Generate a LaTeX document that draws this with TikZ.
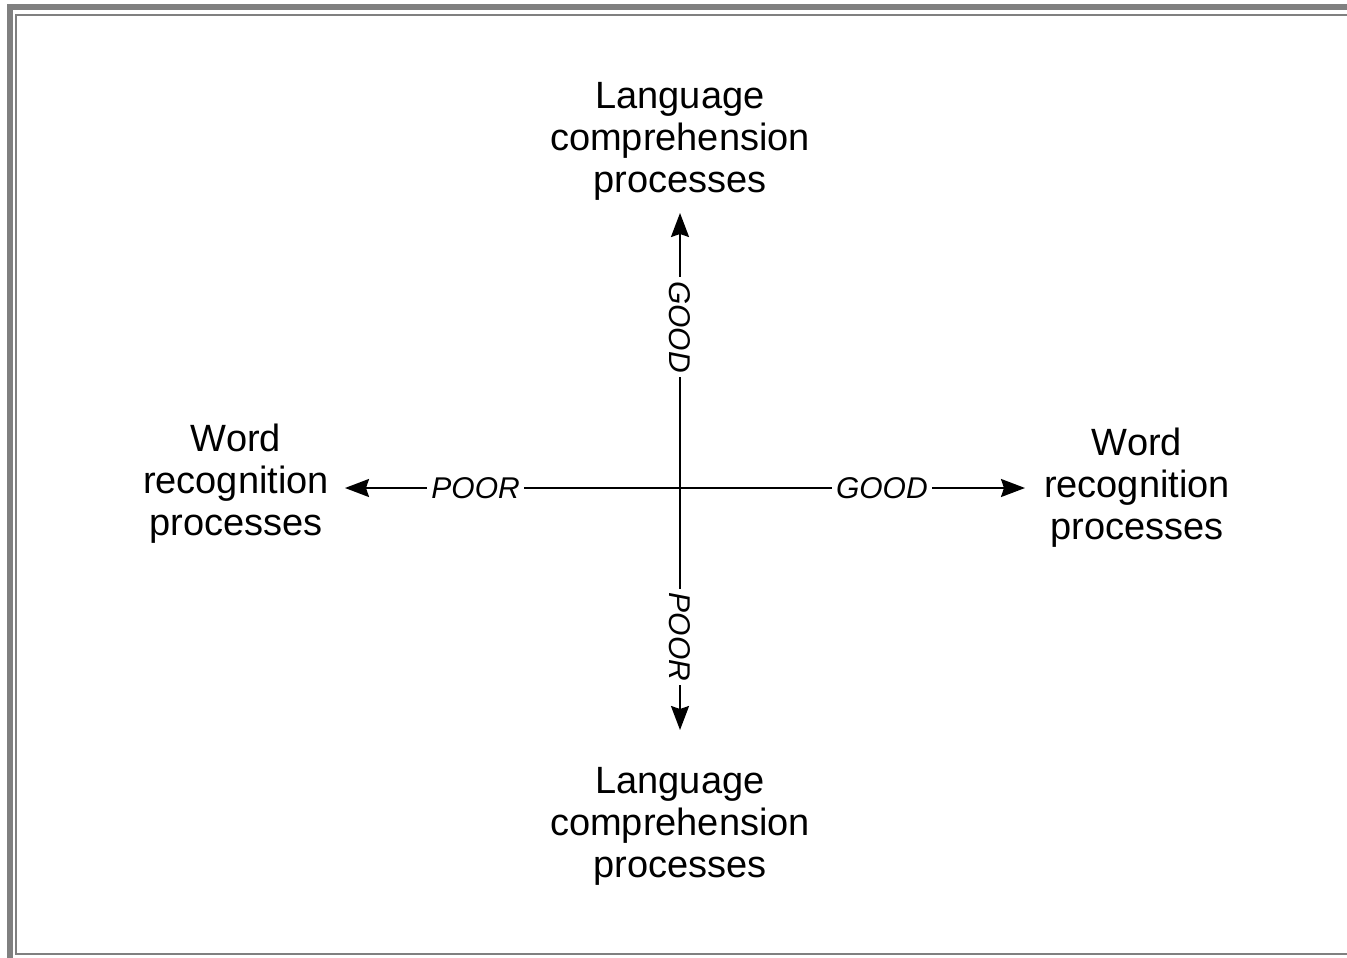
\documentclass[tikz,border=0pt]{standalone}
\usepackage{fontspec}
\setmainfont{Liberation Sans}
\usepackage{xcolor}
\definecolor{framegray}{RGB}{128, 128, 128}
\usetikzlibrary{arrows.meta}
\tikzset{
  quadrant/.style = {
    align=center,
    inner sep=0pt,
    font=\fontsize{19}{21}\selectfont
  },
  axis/.style = {
    -{Stealth[length=12pt, width=9pt, inset=1.5pt]},
    line width=1pt
  },
  rating/.style = {
    font=\fontsize{15}{15}\selectfont\itshape,
    fill=white,
    inner sep=2pt
  },
}
\begin{document}
\begin{tikzpicture}[x=0.5pt, y=-0.5pt]
    \useasboundingbox (0,0) rectangle (1347,957);
    \clip (0,0) rectangle (1347,957);
    % frame
    \draw[framegray, line width=3pt] (10,7) rectangle (1400,990);
    \draw[framegray, line width=1.2pt] (16,15) rectangle (1400,954);
    % processes
    \node[quadrant] (langGood) at (680,141)  {Language\\comprehension\\processes};
    \node[quadrant] (langPoor) at (680,826)  {Language\\comprehension\\processes};
    \node[quadrant] (wordPoor) at (236,484)  {Word\\recognition\\processes};
    \node[quadrant] (wordGood) at (1137,488) {Word\\recognition\\processes};
    % axes
    \coordinate (c)     at (680,488);
    \coordinate (upEnd)    at (680,213);
    \coordinate (downEnd)  at (680,730);
    \coordinate (leftEnd)  at (345,488);
    \coordinate (rightEnd) at (1025,488);
    \draw[axis] (c) -- (upEnd)    node[rating, pos=0.585, rotate=-90] {GOOD};
    \draw[axis] (c) -- (downEnd)  node[rating, pos=0.615, rotate=-90] {POOR};
    \draw[axis] (c) -- (leftEnd)  node[rating, pos=0.61] {POOR};
    \draw[axis] (c) -- (rightEnd) node[rating, pos=0.585] {GOOD};
\end{tikzpicture}
\end{document}
